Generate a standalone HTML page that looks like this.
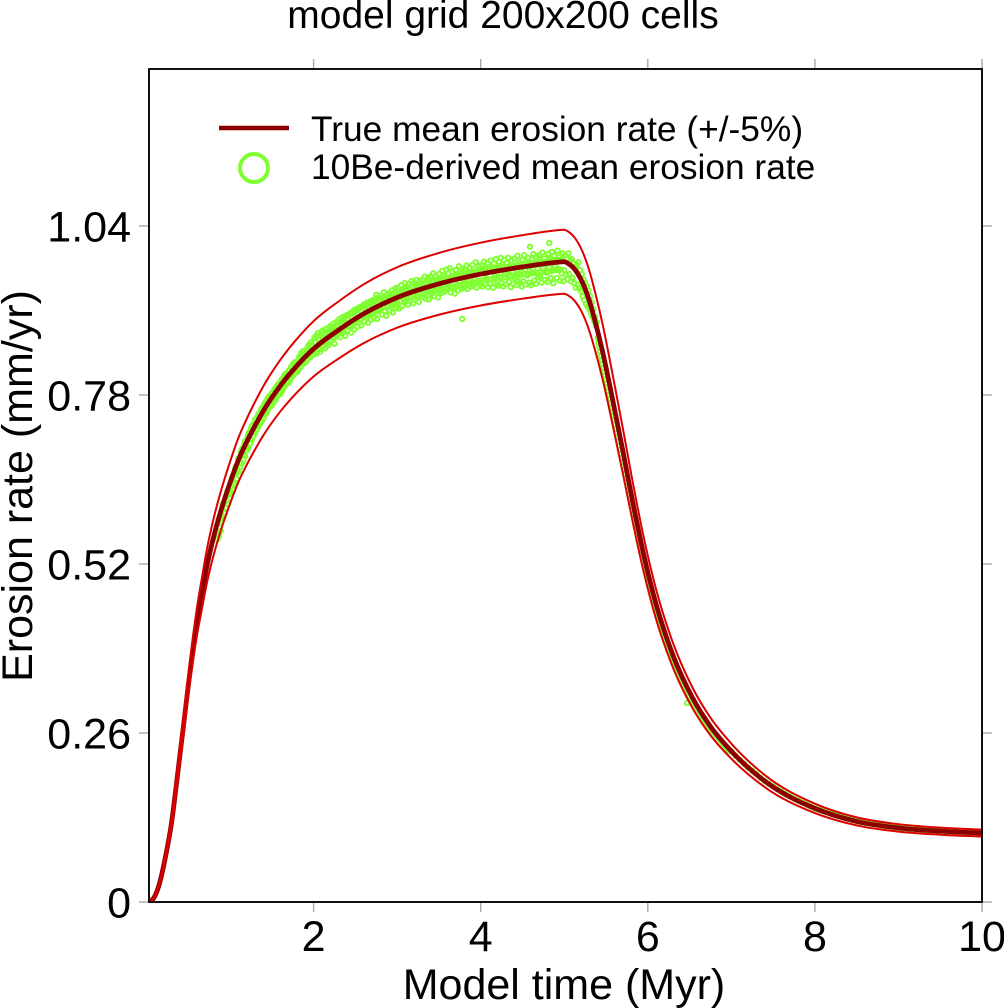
<!DOCTYPE html>
<html>
<head>
<meta charset="utf-8">
<title>model grid 200x200 cells</title>
<style>
html,body{margin:0;padding:0;background:#fff;width:1004px;height:1008px;overflow:hidden}
svg{display:block}
text{font-family:"Liberation Sans",Arial,sans-serif;fill:#000}
</style>
</head>
<body>
<svg id="chart" width="1004" height="1008" viewBox="0 0 1004 1008" xmlns="http://www.w3.org/2000/svg">
  <defs><clipPath id="plot-clip"><rect x="149" y="69" width="833" height="833"/></clipPath></defs>
  <text x="503" y="28" font-size="39" text-anchor="middle">model grid 200x200 cells</text>
  <g id="ticks"></g>
  <g id="scatter" clip-path="url(#plot-clip)" fill="none" stroke="#7fff30" stroke-width="1.9"></g>
  <g id="lines" clip-path="url(#plot-clip)" fill="none" stroke-linejoin="round"></g>
  <rect x="149" y="69" width="833" height="833" fill="none" stroke="#111" stroke-width="2"/>
  <g id="labels" font-size="43"></g>
  <text x="564" y="999" font-size="43" text-anchor="middle">Model time (Myr)</text>
  <text transform="translate(32 486) rotate(-90)" font-size="43" text-anchor="middle">Erosion rate (mm/yr)</text>
  <g>
    <line x1="219" x2="289" y1="128" y2="128" stroke="#8b0000" stroke-width="4.5"/>
    <text x="311" y="141" font-size="35.3">True mean erosion rate (+/-5%)</text>
    <circle cx="254" cy="168" r="14" fill="none" stroke="#7fff30" stroke-width="4"/>
    <text x="311" y="179" font-size="35.3">10Be-derived mean erosion rate</text>
  </g>
</svg>
<script>
const xTicks = [2, 4, 6, 8, 10];
const xTickLabels = ["2", "4", "6", "8", "10"];
const yTicks = [0, 0.26, 0.52, 0.78, 1.04];
const yTickLabels = ["0", "0.26", "0.52", "0.78", "1.04"];
const xDomain = [0.03, 10];
const yDomain = [0, 1.2815];
const boundFraction = 0.05;

const meanTimes = [.03,.06,.1,.15,.225,.3,.36,.4,.442,.514,.56,.61,.665,.722,.8,.893,1,1.1,1.2,1.3,1.4,1.6,1.8,2,2.3,2.6,3,3.5,4,4.5,4.9,5,5.05,5.1,5.15,5.2,5.3,5.37,5.46,5.56,5.7,5.82,5.95,6.095,6.3,6.54,6.75,7,7.4,8,8.5,9,9.5,10];
const meanRates = [0,.002,.009,.026,.068,.122,.183,.226,.27,.348,.393,.436,.476,.516,.56,.603,.645,.68,.708,.733,.756,.794,.825,.851,.88,.905,.93,.951,.966,.977,.984,.985,.982,.977,.969,.958,.925,.893,.846,.785,.695,.615,.535,.46,.38,.313,.27,.232,.186,.144,.124,.114,.109,.106];

const denseStart = 0.84;
const denseStep = 0.01;
const denseRates = [
.566,.558,.582,.563,.589,.571,
.59,.611,.592,.613,.598,.624,.606,.632,.612,.629,
.621,.645,.63,.654,.634,.659,.642,.67,.651,.665,
.662,.684,.669,.692,.675,.698,.68,.704,.686,.7,
.695,.716,.698,.722,.706,.728,.711,.734,.717,.729,
.721,.742,.727,.747,.732,.752,.736,.757,.74,.75,
.744,.766,.75,.77,.753,.775,.759,.778,.763,.771,
.764,.783,.769,.788,.772,.792,.777,.795,.78,.791,
.782,.801,.786,.805,.791,.81,.795,.813,.799,.808,
.799,.817,.803,.823,.808,.827,.811,.83,.815,.824,
.815,.833,.819,.839,.823,.844,.828,.847,.831,.841,
.83,.849,.834,.854,.839,.858,.842,.861,.845,.855,
.849,.868,.853,.871,.844,.875,.858,.866,.847,.877,
.856,.879,.861,.872,.852,.882,.866,.875,.857,.884,
.886,.863,.878,.868,.89,.859,.881,.87,.893,.873,
.877,.897,.869,.888,.875,.9,.882,.892,.871,.891,
.903,.879,.895,.885,.906,.876,.898,.888,.91,.881,
.892,.912,.885,.904,.891,.915,.897,.887,.908,.9,
.919,.893,.91,.899,.922,.891,.913,.904,.924,.896,
.906,.926,.899,.918,.905,.929,.897,.92,.91,.927,
.913,.933,.904,.923,.938,.909,.928,.902,.934,.916,
.936,.91,.928,.917,.941,.907,.931,.92,.944,.914,
.92,.945,.913,.935,.924,.949,.917,.938,.928,.952,
.923,.947,.933,.919,.951,.936,.925,.955,.94,.921,
.952,.927,.942,.957,.93,.948,.923,.955,.938,.945,
.957,.931,.946,.962,.928,.952,.94,.96,.927,.949,
.962,.935,.953,.967,.932,.949,.963,.941,.957,.93,
.966,.94,.958,.937,.971,.95,.963,.939,.957,.973,
.942,.967,.953,.975,.938,.96,.97,.945,.962,.936,
.972,.949,.962,.941,.978,.954,.967,.943,.974,.958,
.945,.973,.96,.979,.943,.965,.955,.976,.947,.968,
.98,.948,.969,.958,.984,.945,.973,.955,.978,.949,
.953,.98,.947,.97,.985,.95,.975,.96,.983,.946,
.972,.951,.987,.958,.977,.945,.982,.963,.989,.95,
.975,.948,.985,.962,.991,.952,.978,.947,.988,.966,
.95,.983,.965,.991,.954,.976,.946,.987,.97,.951,
.99,.96,.978,.949,.994,.967,.984,.952,.976,.947,
.988,.955,.995,.973,.95,.982,.964,.991,.953,.977,
.949,.989,.968,.997,.956,.98,.951,.993,.974,.961,
.995,.963,.985,.953,.999,.975,.99,.957,.982,.968,
.954,.997,.976,.989,.96,1.0,.971,.952,.994,.979,
.984,.96,1.002,.974,.992,.956,.988,.967,.998,.955,
.972,.995,.965,.99,.958,.998,.966,.986,.955,.989,
.96,.982,.952,.976,.945,.98,.95,.984,.944,.972,
.94,.966,.932,.958,.926,.952,.92,.947,.916,.941,
.912,.932,.906,.922,.9,.912,.893,.9,.886,.892,
.868,.86,.853,.847,.84,.834,.828,.822,.816,.81,
.804,.798,.792,.786,.78,.774,.767,.761,.754,.748,
.741,.735,.728,.722,.715,.709,.702,.696,.69,.683,
.677,.671,.665,.658,.652,.646,.64,.634,.627,.621,
.615,.609,.603,.597,.59,.584,.578,.572,.566,.56,
.554,.548,.542,.535,.529,.524,.519,.514,.509,.504,
.499,.494,.489,.484,.479,.474,.469,.464,.46,.456,
.452,.448,.445,.441,.437,.433,.429,.425,.421,.417,
.413,.409,.405,.401,.397,.393,.389,.386,.382,.378
];
const coreStart = 1.0;
const coreStep = 0.02;
const coreRates = [
.628,.65,.644,.666,.66,.682,.675,.696,.688,.709,
.701,.721,.712,.732,.723,.742,.733,.751,.742,.76,
.75,.768,.758,.776,.765,.783,.773,.79,.78,.797,
.787,.804,.793,.811,.8,.817,.806,.823,.812,.829,
.818,.835,.823,.84,.828,.845,.833,.85,.838,.855,
.842,.861,.847,.865,.851,.869,.856,.874,.86,.878,
.864,.882,.868,.886,.873,.891,.877,.895,.881,.899,
.885,.902,.888,.906,.892,.91,.895,.913,.898,.916,
.9,.917,.903,.92,.905,.922,.908,.925,.91,.927,
.912,.929,.915,.932,.917,.934,.919,.936,.921,.938,
.922,.939,.924,.941,.926,.943,.928,.945,.93,.946,
.932,.948,.933,.949,.935,.951,.936,.952,.938,.954,
.939,.955,.94,.956,.941,.957,.943,.958,.944,.96,
.945,.96,.946,.962,.947,.963,.948,.964,.949,.965,
.95,.966,.951,.967,.952,.968,.953,.969,.954,.97,
.956,.971,.957,.972,.958,.973,.958,.974,.959,.974,
.96,.975,.961,.976,.961,.977,.962,.977,.963,.978,
.963,.979,.964,.98,.965,.98,.966,.981,.966,.982,
.967,.982,.968,.983,.968,.984,.969,.984,.97,.985,
.97,.986,.971,.986,.972,.987,.972,.988,.973,.988
];
const midStart = 6.3;
const midStep = 0.02;
const midRates = [.375,.369,.363,.357,.352,.346,.34,.334,.328,.322,.317,.311,.309,.305,.301,.297,.293,.288,.284,.28,.276,.272,.268,.265,.262,.259,.256,.253,.25,.247,.244,.241,.238,.235,.232];
const tailStart = 7;
const tailStep = 0.05;
const tailRates = [.232,.225,.219,.213,.207,.202,.197,.191,.186,.182,.178,.174,.17,.166,.163,.159,.156,.153,.15,.147,.144,.142,.14,.138,.136,.134,.132,.13,.128,.126,.124,.123,.122,.121,.12,.119,.118,.117,.116,.115,.114,.1135,.113,.1125,.112,.1115,.111,.1105,.11,.1095,.109,.1085,.108,.108,.108,.1075,.107,.107,.107,.1065,.106];
const outlierTimes = [2.75,3.78,4.45,4.59,4.82,6.47];
const outlierRates = [.934,.897,.955,1.008,1.014,.306];

const SVGNS = "http://www.w3.org/2000/svg";
const plot = {left: 149, right: 982, top: 69, bottom: 902};
function xScale(t) { return plot.left + (t - xDomain[0]) / (xDomain[1] - xDomain[0]) * (plot.right - plot.left); }
function yScale(v) { return plot.bottom - (v - yDomain[0]) / (yDomain[1] - yDomain[0]) * (plot.bottom - plot.top); }
function make(tag, attrs, parent) {
  const el = document.createElementNS(SVGNS, tag);
  for (const k in attrs) el.setAttribute(k, attrs[k]);
  parent.appendChild(el);
  return el;
}
function smoothPath(xs, ys) {
  const n = xs.length, d = [], m = [];
  for (let i = 0; i < n - 1; i++) d.push((ys[i + 1] - ys[i]) / (xs[i + 1] - xs[i]));
  m[0] = d[0]; m[n - 1] = d[n - 2];
  for (let i = 1; i < n - 1; i++) {
    if (d[i - 1] * d[i] <= 0) { m[i] = 0; continue; }
    const h0 = xs[i] - xs[i - 1], h1 = xs[i + 1] - xs[i];
    m[i] = (h1 * d[i - 1] + h0 * d[i]) / (h0 + h1);
  }
  let p = "M" + xs[0].toFixed(2) + " " + ys[0].toFixed(2);
  for (let i = 0; i < n - 1; i++) {
    const h = (xs[i + 1] - xs[i]) / 3;
    p += "C" + (xs[i] + h).toFixed(2) + " " + (ys[i] + m[i] * h).toFixed(2) + " " +
         (xs[i + 1] - h).toFixed(2) + " " + (ys[i + 1] - m[i + 1] * h).toFixed(2) + " " +
         xs[i + 1].toFixed(2) + " " + ys[i + 1].toFixed(2);
  }
  return p;
}

const tickGroup = document.getElementById("ticks");
const labelGroup = document.getElementById("labels");
const tickLen = 10;
xTicks.forEach(function (t, i) {
  const x = xScale(t);
  [[plot.bottom, plot.bottom + tickLen], [plot.top - tickLen, plot.top]].forEach(function (s) {
    const tick = make("line", {x1: x, x2: x, y1: s[0], y2: s[1], stroke: "#a8a8a8", "stroke-width": 1.4}, tickGroup);
    
    
  });
  const label = make("text", {x: x, y: 951, "text-anchor": "middle"}, labelGroup);
  
  
  label.textContent = xTickLabels[i];
});
yTicks.forEach(function (v, i) {
  const y = yScale(v);
  [[plot.left - tickLen, plot.left], [plot.right, plot.right + tickLen]].forEach(function (s) {
    const tick = make("line", {x1: s[0], x2: s[1], y1: y, y2: y, stroke: "#a8a8a8", "stroke-width": 1.4}, tickGroup);
    
    
  });
  const label = make("text", {x: 131, y: y + 15.5, "text-anchor": "end"}, labelGroup);
  
  
  label.textContent = yTickLabels[i];
});

const scatterGroup = document.getElementById("scatter");
function addPoint(t, v) {
  const c = make("circle", {cx: xScale(t).toFixed(2), cy: yScale(v).toFixed(2), r: 2.25}, scatterGroup);
  
  
}
denseRates.forEach(function (v, i) { addPoint(denseStart + i * denseStep, v); });
coreRates.forEach(function (v, i) { addPoint(coreStart + i * coreStep, v); });
midRates.forEach(function (v, i) { addPoint(midStart + i * midStep, v); });
tailRates.forEach(function (v, i) { addPoint(tailStart + i * tailStep, v); });
outlierRates.forEach(function (v, i) { addPoint(outlierTimes[i], v); });

const lineGroup = document.getElementById("lines");
const xs = meanTimes.map(xScale);
const meanPath = make("path", {d: smoothPath(xs, meanRates.map(yScale)), stroke: "#8b0000", "stroke-width": 4.8}, lineGroup);


const upperPath = make("path", {d: smoothPath(xs, meanRates.map(function (v) { return yScale(v * (1 + boundFraction)); })), stroke: "#dc0000", "stroke-width": 2}, lineGroup);


const lowerPath = make("path", {d: smoothPath(xs, meanRates.map(function (v) { return yScale(v * (1 - boundFraction)); })), stroke: "#dc0000", "stroke-width": 2}, lineGroup);


</script>
</body>
</html>
